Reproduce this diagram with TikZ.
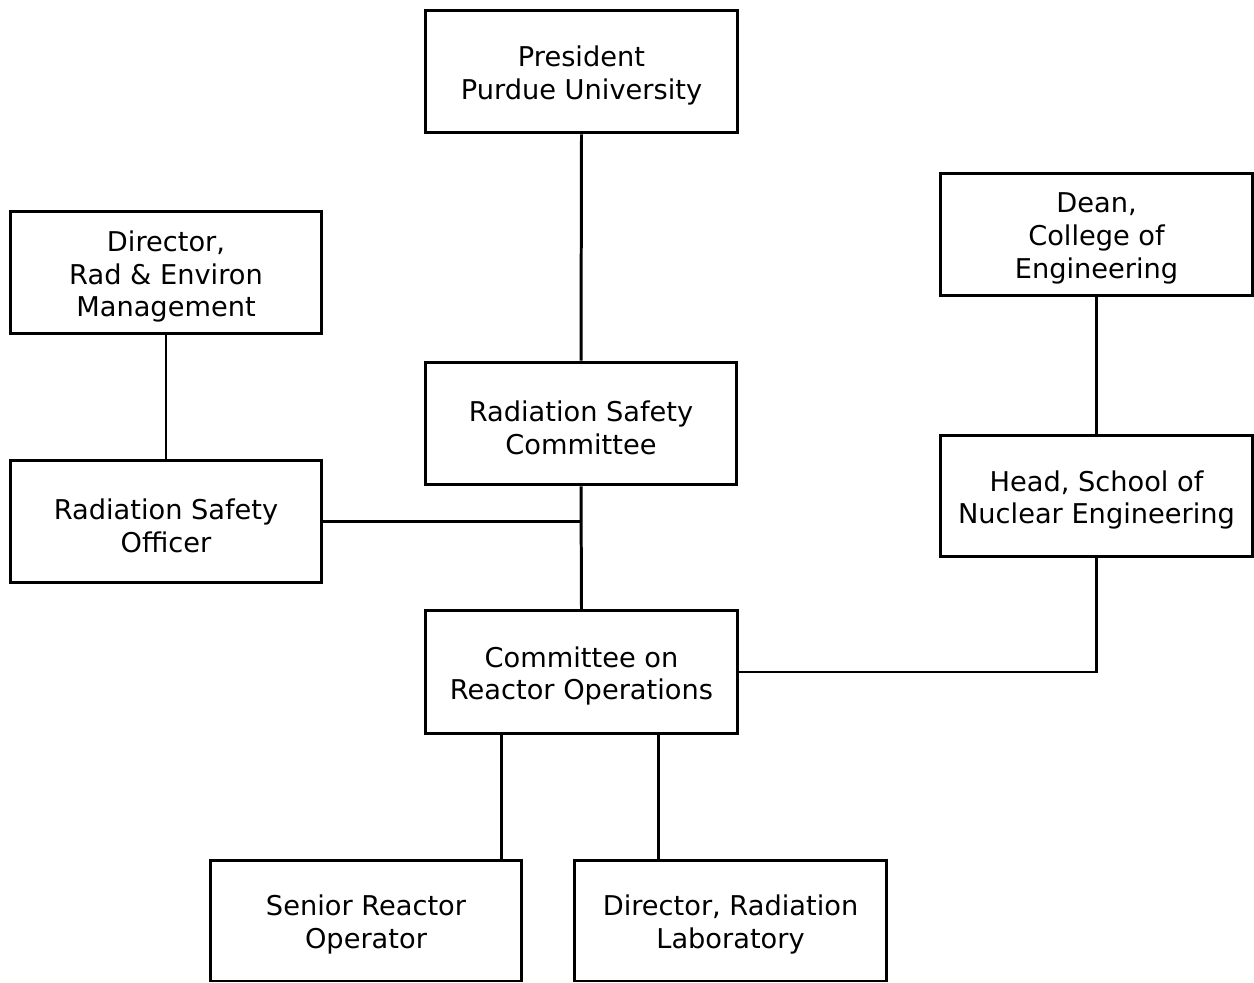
\documentclass[tikz,border=0pt]{standalone}
\usepackage{fontspec}
\setmainfont{DejaVu Sans}
\usetikzlibrary{calc}
\begin{document}
\begin{tikzpicture}[x=0.02cm,y=-0.02cm,
  orgbox/.style={draw=black, line width=1.7pt, fill=white,
    minimum width=6.24cm, minimum height=2.46cm, inner sep=0pt},
  boxtext/.style={align=center, inner sep=0pt, yshift=-0.08cm,
    font=\fontsize{15.5pt}{18.7pt}\selectfont},
  conn/.style={draw=black, line width=1.7pt}]
\useasboundingbox (0,0) rectangle (1254,983);
\node[orgbox, label={[boxtext]center:President\\Purdue University}] (pres) at (581.5,71.5) {};
\node[orgbox, label={[boxtext]center:Director,\\Rad \& Environ\\Management}] (dir) at (166,272.5) {};
\node[orgbox, label={[boxtext]center:Dean,\\College of\\Engineering}] (dean) at (1096.5,234.5) {};
\node[orgbox, label={[boxtext]center:Radiation Safety\\Committee}] (rsc) at (581,423.5) {};
\node[orgbox, label={[boxtext]center:Radiation Safety\\Officer}] (rso) at (166,521.5) {};
\node[orgbox, minimum height=2.44cm, label={[boxtext]center:Head, School of\\Nuclear Engineering}] (head) at (1096.5,496) {};
\node[orgbox, label={[boxtext]center:Committee on\\Reactor Operations}] (cro) at (581.5,672) {};
\node[orgbox, minimum height=2.42cm, label={[boxtext]center:Senior Reactor\\Operator}] (sro) at (366,920.5) {};
\node[orgbox, minimum height=2.42cm, label={[boxtext]center:Director, Radiation\\Laboratory}] (drl) at (730.5,920.5) {};
\draw[conn] (pres.south) -- (rsc.north);
\draw[conn] (dir.south) -- (rso.north);
\draw[conn] (dean.south) -- (head.north);
\draw[conn] (rsc.south) -- (cro.north);
\coordinate (j) at (rsc.south |- rso.east);
\draw[conn] (rso.east) -- (j);
\draw[conn] (head.south) |- (cro.east);
\coordinate (b1) at ($(cro.south west)!0.245!(cro.south east)$);
\coordinate (b2) at ($(cro.south west)!0.744!(cro.south east)$);
\draw[conn] (b1) -- (b1 |- sro.north);
\draw[conn] (b2) -- (b2 |- drl.north);
\end{tikzpicture}
\end{document}
